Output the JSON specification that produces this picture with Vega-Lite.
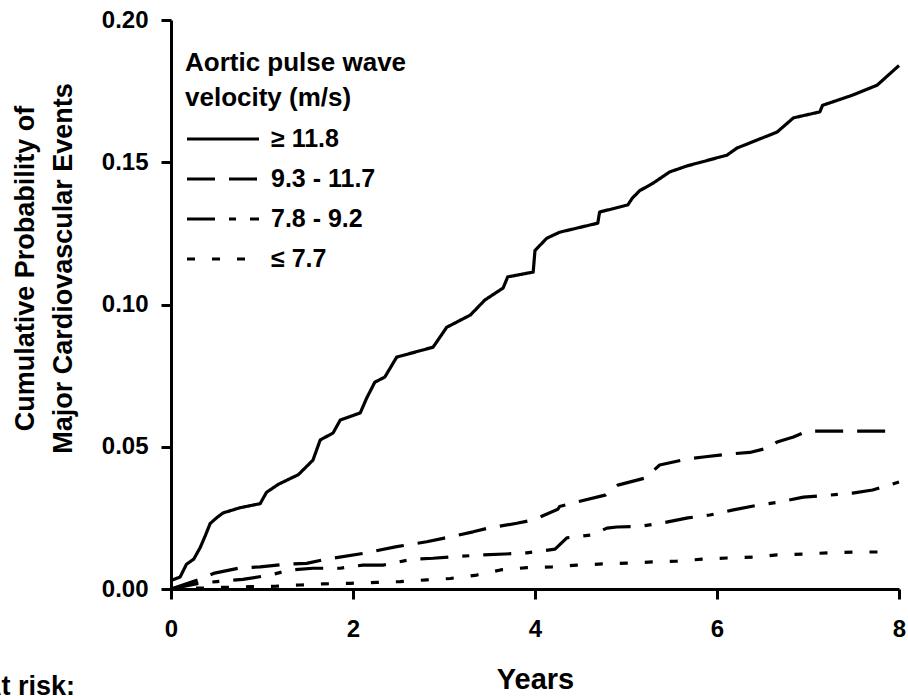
{
  "$schema": "https://vega.github.io/schema/vega-lite/v6.json",
  "width": 728,
  "height": 569,
  "autosize": "none",
  "padding": {"left": 171, "top": 20, "right": 9, "bottom": 107},
  "background": "white",
  "title": {
    "text": "At risk:",
    "orient": "bottom",
    "anchor": "start",
    "frame": "group",
    "dx": -189,
    "offset": 1,
    "baseline": "alphabetic",
    "fontSize": 27,
    "fontWeight": "bold",
    "font": "Liberation Sans",
    "color": "black"
  },
  "config": {
    "font": "Liberation Sans",
    "view": {"stroke": null},
    "axis": {
      "domainColor": "black",
      "domainWidth": 3,
      "tickColor": "black",
      "tickWidth": 3,
      "tickSize": 10,
      "grid": false,
      "labelFlush": false,
      "labelFont": "Liberation Sans",
      "labelFontSize": 24,
      "labelFontWeight": "bold",
      "labelColor": "black",
      "titleFont": "Liberation Sans",
      "titleFontWeight": "bold",
      "titleColor": "black"
    },
    "legend": {
      "labelFont": "Liberation Sans",
      "titleFont": "Liberation Sans"
    }
  },
  "data": {
    "values": [
      {"group": "≥ 11.8", "t": 0, "p": 0.003},
      {"group": "≥ 11.8", "t": 0.1, "p": 0.0042},
      {"group": "≥ 11.8", "t": 0.17, "p": 0.0087},
      {"group": "≥ 11.8", "t": 0.25, "p": 0.0105},
      {"group": "≥ 11.8", "t": 0.32, "p": 0.0145},
      {"group": "≥ 11.8", "t": 0.38, "p": 0.019},
      {"group": "≥ 11.8", "t": 0.43, "p": 0.023},
      {"group": "≥ 11.8", "t": 0.5, "p": 0.025},
      {"group": "≥ 11.8", "t": 0.57, "p": 0.0267},
      {"group": "≥ 11.8", "t": 0.75, "p": 0.0285},
      {"group": "≥ 11.8", "t": 0.98, "p": 0.030},
      {"group": "≥ 11.8", "t": 1.05, "p": 0.034},
      {"group": "≥ 11.8", "t": 1.18, "p": 0.0368},
      {"group": "≥ 11.8", "t": 1.4, "p": 0.0402},
      {"group": "≥ 11.8", "t": 1.56, "p": 0.0453},
      {"group": "≥ 11.8", "t": 1.64, "p": 0.0524},
      {"group": "≥ 11.8", "t": 1.78, "p": 0.0548},
      {"group": "≥ 11.8", "t": 1.86, "p": 0.0594},
      {"group": "≥ 11.8", "t": 2.08, "p": 0.0619},
      {"group": "≥ 11.8", "t": 2.15, "p": 0.0671},
      {"group": "≥ 11.8", "t": 2.24, "p": 0.0727},
      {"group": "≥ 11.8", "t": 2.35, "p": 0.0745},
      {"group": "≥ 11.8", "t": 2.48, "p": 0.0815},
      {"group": "≥ 11.8", "t": 2.88, "p": 0.085},
      {"group": "≥ 11.8", "t": 3.03, "p": 0.092},
      {"group": "≥ 11.8", "t": 3.29, "p": 0.0963},
      {"group": "≥ 11.8", "t": 3.45, "p": 0.1016},
      {"group": "≥ 11.8", "t": 3.65, "p": 0.1058},
      {"group": "≥ 11.8", "t": 3.7, "p": 0.1097},
      {"group": "≥ 11.8", "t": 3.98, "p": 0.1114},
      {"group": "≥ 11.8", "t": 4.0, "p": 0.119},
      {"group": "≥ 11.8", "t": 4.13, "p": 0.1233},
      {"group": "≥ 11.8", "t": 4.27, "p": 0.1254},
      {"group": "≥ 11.8", "t": 4.69, "p": 0.1286},
      {"group": "≥ 11.8", "t": 4.71, "p": 0.1325},
      {"group": "≥ 11.8", "t": 5.02, "p": 0.135},
      {"group": "≥ 11.8", "t": 5.07, "p": 0.1374},
      {"group": "≥ 11.8", "t": 5.15, "p": 0.140},
      {"group": "≥ 11.8", "t": 5.3, "p": 0.1427},
      {"group": "≥ 11.8", "t": 5.48, "p": 0.1466},
      {"group": "≥ 11.8", "t": 5.67, "p": 0.1487},
      {"group": "≥ 11.8", "t": 6.11, "p": 0.1525},
      {"group": "≥ 11.8", "t": 6.22, "p": 0.155},
      {"group": "≥ 11.8", "t": 6.66, "p": 0.1606},
      {"group": "≥ 11.8", "t": 6.84, "p": 0.1656},
      {"group": "≥ 11.8", "t": 7.13, "p": 0.1677},
      {"group": "≥ 11.8", "t": 7.16, "p": 0.170},
      {"group": "≥ 11.8", "t": 7.49, "p": 0.1736},
      {"group": "≥ 11.8", "t": 7.76, "p": 0.1771},
      {"group": "≥ 11.8", "t": 8.0, "p": 0.184},

      {"group": "9.3 - 11.7", "t": 0, "p": 0},
      {"group": "9.3 - 11.7", "t": 0.3, "p": 0.0032},
      {"group": "9.3 - 11.7", "t": 0.48, "p": 0.0056},
      {"group": "9.3 - 11.7", "t": 0.76, "p": 0.0074},
      {"group": "9.3 - 11.7", "t": 0.98, "p": 0.0078},
      {"group": "9.3 - 11.7", "t": 1.27, "p": 0.0087},
      {"group": "9.3 - 11.7", "t": 1.49, "p": 0.009},
      {"group": "9.3 - 11.7", "t": 1.71, "p": 0.0105},
      {"group": "9.3 - 11.7", "t": 2.11, "p": 0.0125},
      {"group": "9.3 - 11.7", "t": 2.48, "p": 0.0149},
      {"group": "9.3 - 11.7", "t": 2.81, "p": 0.0166},
      {"group": "9.3 - 11.7", "t": 2.99, "p": 0.0178},
      {"group": "9.3 - 11.7", "t": 3.32, "p": 0.0201},
      {"group": "9.3 - 11.7", "t": 3.47, "p": 0.0213},
      {"group": "9.3 - 11.7", "t": 3.8, "p": 0.0231},
      {"group": "9.3 - 11.7", "t": 3.98, "p": 0.0243},
      {"group": "9.3 - 11.7", "t": 4.25, "p": 0.028},
      {"group": "9.3 - 11.7", "t": 4.27, "p": 0.029},
      {"group": "9.3 - 11.7", "t": 4.46, "p": 0.0306},
      {"group": "9.3 - 11.7", "t": 4.77, "p": 0.033},
      {"group": "9.3 - 11.7", "t": 4.91, "p": 0.0365},
      {"group": "9.3 - 11.7", "t": 5.21, "p": 0.039},
      {"group": "9.3 - 11.7", "t": 5.37, "p": 0.0436},
      {"group": "9.3 - 11.7", "t": 5.67, "p": 0.0457},
      {"group": "9.3 - 11.7", "t": 5.85, "p": 0.0464},
      {"group": "9.3 - 11.7", "t": 6.16, "p": 0.0475},
      {"group": "9.3 - 11.7", "t": 6.36, "p": 0.048},
      {"group": "9.3 - 11.7", "t": 6.6, "p": 0.0499},
      {"group": "9.3 - 11.7", "t": 6.66, "p": 0.0517},
      {"group": "9.3 - 11.7", "t": 6.84, "p": 0.0534},
      {"group": "9.3 - 11.7", "t": 6.99, "p": 0.0555},
      {"group": "9.3 - 11.7", "t": 8.0, "p": 0.0555},

      {"group": "7.8 - 9.2", "t": 0, "p": 0},
      {"group": "7.8 - 9.2", "t": 0.3, "p": 0.002},
      {"group": "7.8 - 9.2", "t": 0.5, "p": 0.0026},
      {"group": "7.8 - 9.2", "t": 0.79, "p": 0.0034},
      {"group": "7.8 - 9.2", "t": 1.09, "p": 0.0049},
      {"group": "7.8 - 9.2", "t": 1.31, "p": 0.0067},
      {"group": "7.8 - 9.2", "t": 1.56, "p": 0.0073},
      {"group": "7.8 - 9.2", "t": 1.86, "p": 0.0073},
      {"group": "7.8 - 9.2", "t": 2.11, "p": 0.0084},
      {"group": "7.8 - 9.2", "t": 2.33, "p": 0.0084},
      {"group": "7.8 - 9.2", "t": 2.66, "p": 0.0105},
      {"group": "7.8 - 9.2", "t": 2.88, "p": 0.0108},
      {"group": "7.8 - 9.2", "t": 3.14, "p": 0.0114},
      {"group": "7.8 - 9.2", "t": 3.43, "p": 0.012},
      {"group": "7.8 - 9.2", "t": 3.67, "p": 0.0123},
      {"group": "7.8 - 9.2", "t": 3.91, "p": 0.0127},
      {"group": "7.8 - 9.2", "t": 4.22, "p": 0.014},
      {"group": "7.8 - 9.2", "t": 4.35, "p": 0.018},
      {"group": "7.8 - 9.2", "t": 4.63, "p": 0.019},
      {"group": "7.8 - 9.2", "t": 4.79, "p": 0.0214},
      {"group": "7.8 - 9.2", "t": 4.9, "p": 0.0218},
      {"group": "7.8 - 9.2", "t": 5.15, "p": 0.022},
      {"group": "7.8 - 9.2", "t": 5.4, "p": 0.0232},
      {"group": "7.8 - 9.2", "t": 5.68, "p": 0.025},
      {"group": "7.8 - 9.2", "t": 5.92, "p": 0.026},
      {"group": "7.8 - 9.2", "t": 6.18, "p": 0.0278},
      {"group": "7.8 - 9.2", "t": 6.45, "p": 0.0295},
      {"group": "7.8 - 9.2", "t": 6.69, "p": 0.0306},
      {"group": "7.8 - 9.2", "t": 6.95, "p": 0.0323},
      {"group": "7.8 - 9.2", "t": 7.24, "p": 0.033},
      {"group": "7.8 - 9.2", "t": 7.49, "p": 0.0337},
      {"group": "7.8 - 9.2", "t": 7.71, "p": 0.0348},
      {"group": "7.8 - 9.2", "t": 8.0, "p": 0.0376},

      {"group": "≤ 7.7", "t": 0, "p": 0},
      {"group": "≤ 7.7", "t": 0.3, "p": 0.0003},
      {"group": "≤ 7.7", "t": 0.61, "p": 0.0006},
      {"group": "≤ 7.7", "t": 0.87, "p": 0.0008},
      {"group": "≤ 7.7", "t": 1.16, "p": 0.001},
      {"group": "≤ 7.7", "t": 1.42, "p": 0.0014},
      {"group": "≤ 7.7", "t": 1.67, "p": 0.0018},
      {"group": "≤ 7.7", "t": 1.97, "p": 0.002},
      {"group": "≤ 7.7", "t": 2.26, "p": 0.0023},
      {"group": "≤ 7.7", "t": 2.52, "p": 0.0026},
      {"group": "≤ 7.7", "t": 2.81, "p": 0.0032},
      {"group": "≤ 7.7", "t": 3.07, "p": 0.0037},
      {"group": "≤ 7.7", "t": 3.36, "p": 0.0049},
      {"group": "≤ 7.7", "t": 3.62, "p": 0.0067},
      {"group": "≤ 7.7", "t": 3.91, "p": 0.0075},
      {"group": "≤ 7.7", "t": 4.19, "p": 0.0078},
      {"group": "≤ 7.7", "t": 4.46, "p": 0.0084},
      {"group": "≤ 7.7", "t": 4.74, "p": 0.0088},
      {"group": "≤ 7.7", "t": 5.01, "p": 0.0091},
      {"group": "≤ 7.7", "t": 5.29, "p": 0.0095},
      {"group": "≤ 7.7", "t": 5.56, "p": 0.0098},
      {"group": "≤ 7.7", "t": 5.84, "p": 0.0105},
      {"group": "≤ 7.7", "t": 6.11, "p": 0.0109},
      {"group": "≤ 7.7", "t": 6.4, "p": 0.0112},
      {"group": "≤ 7.7", "t": 6.66, "p": 0.012},
      {"group": "≤ 7.7", "t": 6.95, "p": 0.0123},
      {"group": "≤ 7.7", "t": 7.22, "p": 0.0127},
      {"group": "≤ 7.7", "t": 7.5, "p": 0.013},
      {"group": "≤ 7.7", "t": 7.85, "p": 0.013}
    ]
  },
  "mark": {"type": "line", "color": "black", "strokeWidth": 3.2, "strokeCap": "butt", "strokeJoin": "round"},
  "encoding": {
    "x": {
      "field": "t",
      "type": "quantitative",
      "scale": {"domain": [0, 8], "nice": false},
      "axis": {
        "values": [0, 2, 4, 6, 8],
        "format": "d",
        "title": "Years",
        "titleFontSize": 29,
        "labelPadding": 18,
        "titlePadding": 24
      }
    },
    "y": {
      "field": "p",
      "type": "quantitative",
      "scale": {"domain": [0, 0.2], "nice": false},
      "axis": {
        "values": [0, 0.05, 0.1, 0.15, 0.2],
        "format": ".2f",
        "title": ["Cumulative Probability of", "Major Cardiovascular Events"],
        "titleFontSize": 27,
        "titleLineHeight": 38,
        "labelPadding": 13,
        "titlePadding": 24,
        "titleY": 248
      }
    },
    "strokeDash": {
      "field": "group",
      "type": "nominal",
      "scale": {
        "domain": ["≥ 11.8", "9.3 - 11.7", "7.8 - 9.2", "≤ 7.7"],
        "range": [[1, 0], [28, 14], [28, 14, 7, 14], [8, 17]]
      },
      "legend": {
        "orient": "none",
        "legendX": 14,
        "legendY": 30,
        "padding": 0,
        "title": ["Aortic pulse wave", "velocity (m/s)"],
        "titleLimit": 400,
        "titleFontSize": 26,
        "titleFontWeight": "bold",
        "titleColor": "black",
        "titleLineHeight": 35,
        "titlePadding": 14,
        "labelFontSize": 25,
        "labelFontWeight": "bold",
        "labelColor": "black",
        "labelLimit": 300,
        "labelOffset": 58,
        "rowPadding": 13,
        "symbolType": "M-1,0H5",
        "symbolSize": 576,
        "symbolStrokeWidth": 3.2,
        "symbolStrokeColor": "black"
      }
    }
  }
}
